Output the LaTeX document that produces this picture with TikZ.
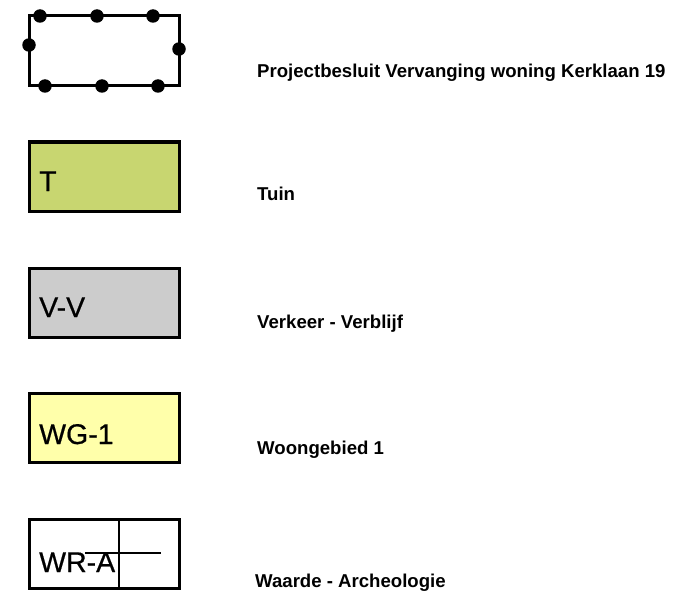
\documentclass[tikz,border=0pt]{standalone}
\usepackage{fontspec}
\setmainfont{Liberation Sans}
\newfontfamily\boxfont[FakeBold=0.6]{Liberation Sans}
\definecolor{tuin}{RGB}{200,214,112}
\definecolor{verkeer}{RGB}{204,204,204}
\definecolor{wonen}{RGB}{255,255,170}
\tikzset{
  legendbox/.style={draw=black, line width=3pt},
  boxtext/.style={anchor=base west, inner sep=0pt, font=\boxfont\fontsize{28.5}{28.5}\selectfont},
  labeltext/.style={anchor=base west, inner sep=0pt, font=\bfseries\fontsize{18.6}{18.6}\selectfont},
  dot/.style={circle, fill=black, inner sep=0pt, minimum size=13.5pt},
  thinline/.style={draw=black, line width=1.5pt}
}
\begin{document}
\begin{tikzpicture}[x=1pt,y=-1pt]
\useasboundingbox (0,0) rectangle (685,607);
% plan boundary
\draw[legendbox, line join=miter] (29,16) rectangle (179,86);
\node[dot] (d1) at (40,16) {};
\node[dot] (d2) at (97,16) {};
\node[dot] (d3) at (153,16) {};
\node[dot] (d4) at (29,45) {};
\node[dot] (d5) at (179,49) {};
\node[dot] (d6) at (45,86) {};
\node[dot] (d7) at (102,86) {};
\node[dot] (d8) at (158,86) {};
\node[labeltext] (l1) at (257,78) {Projectbesluit Vervanging woning Kerklaan 19};
% Tuin
\draw[legendbox, fill=tuin] (29,142) rectangle (179,211);
\node[boxtext] (t2) at (39,191) {T};
\node[labeltext] (l2) at (257,200) {Tuin};
% Verkeer
\draw[legendbox, fill=verkeer] (29,268) rectangle (179,337);
\node[boxtext] (t3) at (39,317) {V-V};
\node[labeltext] (l3) at (257,328) {Verkeer - Verblijf};
% Wonen
\draw[legendbox, fill=wonen] (29,393) rectangle (179,462);
\node[boxtext] (t4) at (39,444) {WG-1};
\node[labeltext] (l4) at (257,454) {Woongebied 1};
% Waarde Archeologie
\draw[legendbox] (29,519) rectangle (179,588);
\coordinate (va) at (119,519);
\coordinate (vb) at (119,588);
\coordinate (ha) at (85,553);
\coordinate (hb) at (161,553);
\draw[thinline] (va) -- (vb);
\node[boxtext] (t5) at (39,572) {WR-A};
\draw[thinline] (ha) -- (hb);
\node[labeltext] (l5) at (255,587) {Waarde - Archeologie};
\end{tikzpicture}
\end{document}
